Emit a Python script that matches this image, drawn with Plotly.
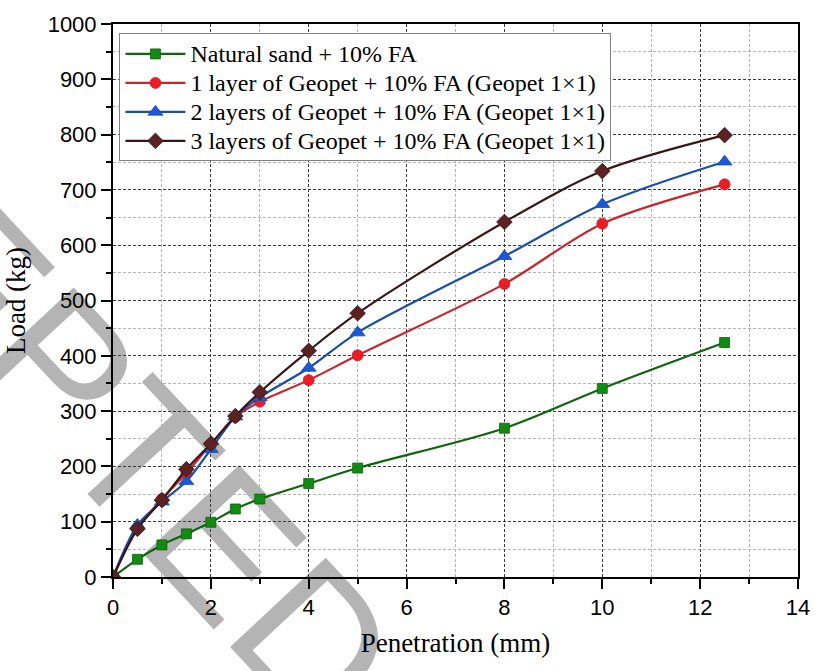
import plotly.graph_objects as go

# ---- data ----
penetration = [0, 0.5, 1, 1.5, 2, 2.5, 3, 4, 5, 8, 10, 12.5]
load_natural = [0, 32, 58, 78, 99, 123, 141, 169, 197, 269, 341, 424]
load_1layer = [0, 88, 141, 188, 240, 289, 317, 356, 401, 530, 639, 710]
load_2layers = [0, 94, 136, 173, 231, 290, 325, 378, 442, 580, 674, 751]
load_3layers = [0, 87, 139, 195, 241, 291, 334, 409, 477, 642, 734, 799]

series_names = [
    "Natural sand + 10% FA",
    "1 layer of Geopet + 10% FA (Geopet 1×1)",
    "2 layers of Geopet + 10% FA (Geopet 1×1)",
    "3 layers of Geopet + 10% FA (Geopet 1×1)",
]
series_values = [load_natural, load_1layer, load_2layers, load_3layers]
line_colors = ["#0d650d", "#c8262c", "#1a4ea8", "#3a1616"]
marker_colors = ["#138a13", "#ec1c24", "#1a58d8", "#5a2222"]
marker_symbols = ["square", "circle", "triangle-up", "diamond"]
marker_sizes = [10, 11, 13, 12]

watermark_text = "ACCEPTED"

fig = go.Figure()
for name, vals, lc, mc, sym, sz in zip(series_names, series_values, line_colors,
                                       marker_colors, marker_symbols, marker_sizes):
    fig.add_trace(go.Scatter(
        x=penetration, y=vals, mode="lines+markers",
        name='<span style="font-size:24px">' + name + '</span>',
        line=dict(color=lc, width=2.2, shape="spline", smoothing=0.9),
        marker=dict(symbol=sym, size=sz, color=mc, line=dict(color=lc, width=0.8)),
    ))

axis_common = dict(
    showline=True, linewidth=2, linecolor="black", mirror=True,
    ticks="outside", ticklen=10, tickwidth=2, tickcolor="black",
    showgrid=True, gridcolor="#3c3c3c", gridwidth=1, griddash="3px,2px",
    zeroline=False,
    tickfont=dict(family="Liberation Sans, Arial", size=22, color="black"),
)

# journal watermark, drawn beneath the plot content
fig.add_shape(
    type="line", xref="paper", yref="paper",
    x0=-0.163, y0=0.540, x1=-0.1035, y1=0.461,
    line=dict(color="rgba(0,0,0,0)", width=0),
    layer="below",
    label=dict(text=watermark_text, textangle=47, textposition="middle",
               xanchor="center", yanchor="middle", padding=0,
               font=dict(family="Liberation Sans Narrow, Liberation Sans, Arial",
                         size=190, color="#b4b4b4")),
)

fig.update_layout(
    width=822, height=671,
    margin=dict(l=113, r=17, t=19, b=94),
    paper_bgcolor="white", plot_bgcolor="rgba(0,0,0,0)",
    xaxis=dict(
        range=[0, 14], tick0=0, dtick=2,
        minor=dict(dtick=1, ticks="outside", ticklen=5, tickwidth=2, tickcolor="black",
                   showgrid=True, gridcolor="#b4b4b4", griddash="3px,2px", gridwidth=1),
        title=dict(text="Penetration (mm)", standoff=14,
                   font=dict(family="Liberation Serif, Times New Roman", size=27, color="black")),
        **axis_common,
    ),
    yaxis=dict(
        range=[0, 1000], tick0=0, dtick=100,
        minor=dict(dtick=50, ticks="outside", ticklen=5, tickwidth=2, tickcolor="black",
                   showgrid=True, gridcolor="#b4b4b4", griddash="3px,2px", gridwidth=1),
        title=dict(text="Load (kg)", standoff=14,
                   font=dict(family="Liberation Serif, Times New Roman", size=27, color="black")),
        **axis_common,
    ),
    xaxis2=dict(
        overlaying="x", anchor="y", side="top", range=[0, 14], tick0=0, dtick=2,
        ticks="inside", ticklen=10, tickwidth=2, tickcolor="black",
        minor=dict(dtick=1, ticks="inside", ticklen=5, tickwidth=2, tickcolor="black", showgrid=False),
        showticklabels=False, showgrid=False, showline=False, zeroline=False,
    ),
    yaxis2=dict(
        overlaying="y", anchor="x", side="right", range=[0, 1000], tick0=0, dtick=100,
        ticks="inside", ticklen=10, tickwidth=2, tickcolor="black",
        minor=dict(dtick=50, ticks="inside", ticklen=5, tickwidth=2, tickcolor="black", showgrid=False),
        showticklabels=False, showgrid=False, showline=False, zeroline=False,
    ),
    legend=dict(
        x=0.0094, y=0.983, xanchor="left", yanchor="top",
        bgcolor="white", bordercolor="#808080", borderwidth=1,
        font=dict(family="Liberation Serif, Times New Roman", size=20, color="black"),
        itemwidth=60, tracegroupgap=0,
    ),
    showlegend=True,
)

fig.write_html("out.html")
